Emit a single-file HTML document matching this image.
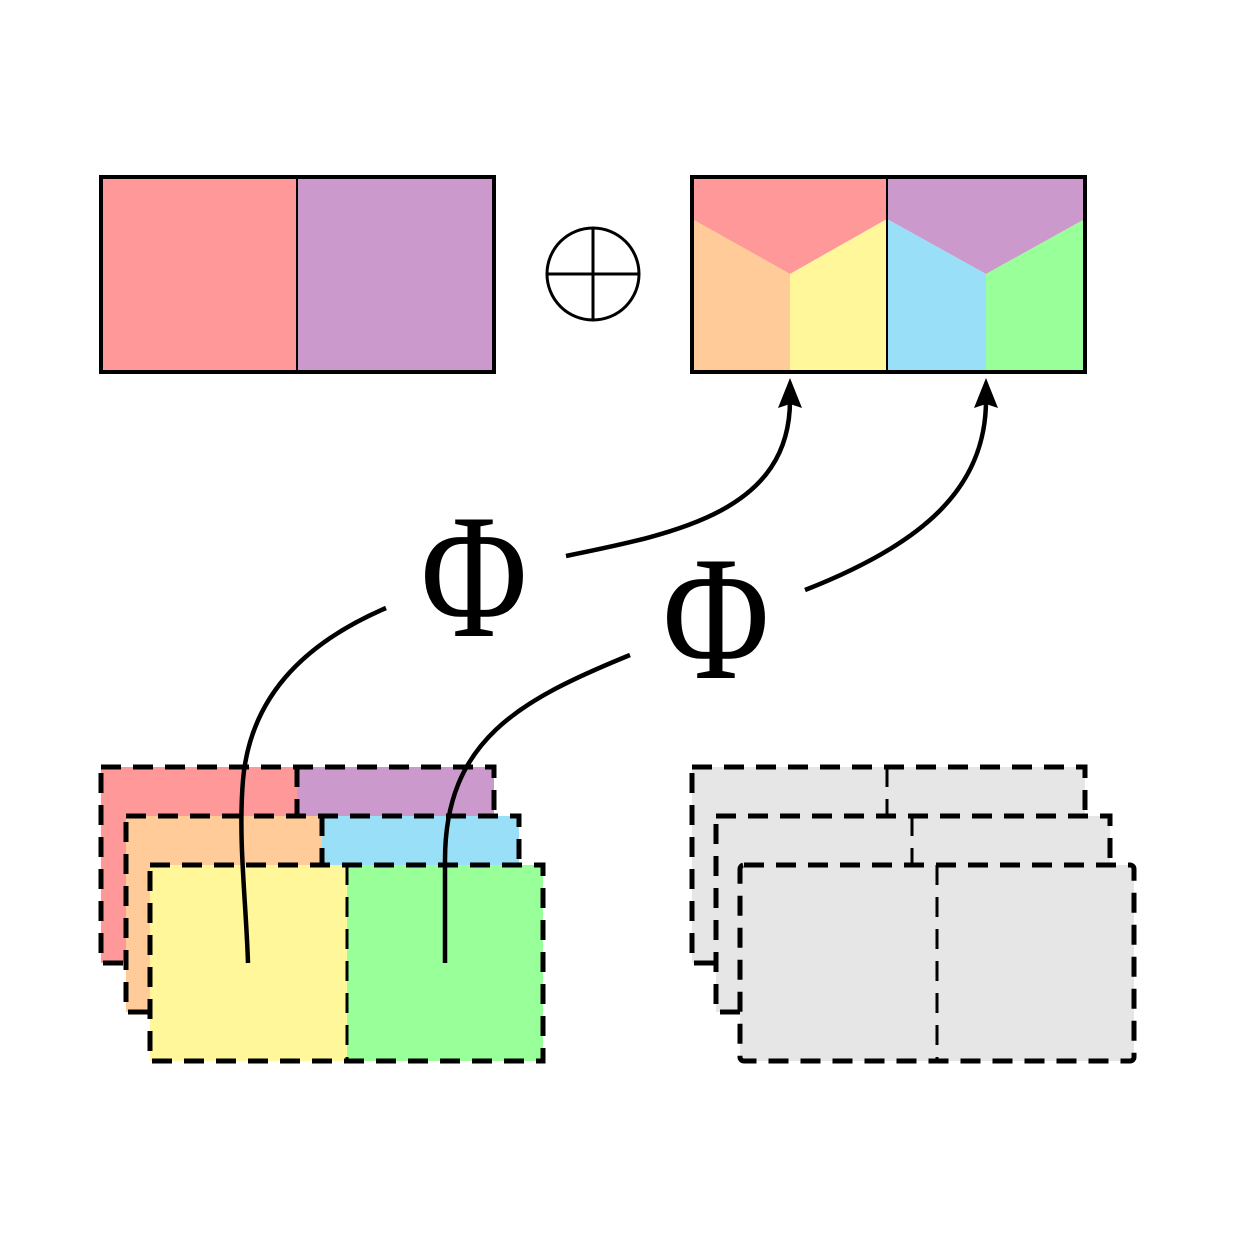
<!DOCTYPE html>
<html><head><style>html,body{margin:0;padding:0;background:#fff}</style></head><body>
<svg width="1235" height="1235" viewBox="0 0 1235 1235" xmlns="http://www.w3.org/2000/svg">
<rect width="1235" height="1235" fill="#fff"/>
<rect x="101" y="177" width="196" height="195" fill="#ff9999"/>
<rect x="297" y="177" width="197" height="195" fill="#cc99cc"/>
<line x1="297" y1="177" x2="297" y2="372" stroke="#000" stroke-width="2"/>
<rect x="101" y="177" width="393" height="195" fill="none" stroke="#000" stroke-width="4"/>
<circle cx="593" cy="274" r="46" fill="none" stroke="#000" stroke-width="3"/>
<line x1="547" y1="274" x2="639" y2="274" stroke="#000" stroke-width="3"/>
<line x1="593" y1="228" x2="593" y2="320" stroke="#000" stroke-width="3"/>
<polygon points="692,177 887,177 887,219 790,274 692,219" fill="#ff9999"/>
<polygon points="692,219 790,274 790,372 692,372" fill="#ffcc99"/>
<polygon points="790,274 887,219 887,372 790,372" fill="#fff799"/>
<polygon points="887,177 1085,177 1085,219 986,274 887,219" fill="#cc99cc"/>
<polygon points="887,219 986,274 986,372 887,372" fill="#99dff7"/>
<polygon points="986,274 1085,219 1085,372 986,372" fill="#99ff99"/>
<line x1="887" y1="177" x2="887" y2="372" stroke="#000" stroke-width="2"/>
<rect x="692" y="177" width="393" height="195" fill="none" stroke="#000" stroke-width="4"/>
<g stroke="#000" stroke-width="5" stroke-dasharray="20 12">
<rect x="101" y="767" width="196" height="196" fill="#ff9999" stroke="none"/>
<rect x="297" y="767" width="197" height="196" fill="#cc99cc" stroke="none"/>
<rect x="101" y="767" width="393" height="196" fill="none"/>
<line x1="297" y1="767" x2="297" y2="816"/>
<rect x="126" y="816" width="196" height="196" fill="#ffcc99" stroke="none"/>
<rect x="322" y="816" width="197" height="196" fill="#99dff7" stroke="none"/>
<rect x="126" y="816" width="393" height="196" fill="none"/>
<line x1="322" y1="816" x2="322" y2="865"/>
<rect x="150" y="865" width="197" height="196" fill="#fff799" stroke="none"/>
<rect x="347" y="865" width="196" height="196" fill="#99ff99" stroke="none"/>
<rect x="150" y="865" width="393" height="196" fill="none"/>
<line x1="347" y1="865" x2="347" y2="1061" stroke-width="3"/>
</g>
<g stroke="#000" stroke-width="5" stroke-dasharray="20 12" fill="#e6e6e6">
<rect x="692" y="767" width="393" height="196"/>
<line x1="887" y1="767" x2="887" y2="816" stroke-width="3"/>
<rect x="716" y="816" width="394" height="196"/>
<line x1="912" y1="816" x2="912" y2="865" stroke-width="3"/>
<rect x="740" y="865" width="394" height="196" rx="4"/>
<line x1="937" y1="865" x2="937" y2="1061" stroke-width="3"/>
</g>
<g fill="none" stroke="#000" stroke-width="4.5">
<path d="M248,963 C246,900 238,840 243,780 C250,700 300,645 386,608"/>
<path d="M566,556 C680,533 790,510 790,400"/>
<path d="M445,963 L445,860 C445,740 520,700 630,655"/>
<path d="M805,590 C920,545 986,490 986,400"/>
</g>
<polygon points="790,378 778,408 790,404 802,408" fill="#000"/>
<polygon points="986,378 974,408 986,404 998,408" fill="#000"/>
<text x="0" y="0" transform="translate(474,636) scale(0.82,1)" font-family="Liberation Serif, DejaVu Serif, serif" font-size="178" text-anchor="middle">Φ</text>
<text x="0" y="0" transform="translate(716,678) scale(0.82,1)" font-family="Liberation Serif, DejaVu Serif, serif" font-size="178" text-anchor="middle">Φ</text>
</svg>
</body></html>
